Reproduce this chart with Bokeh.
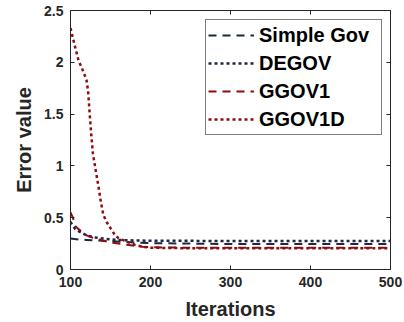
from bokeh.plotting import figure
from bokeh.models import LinearAxis, FixedTicker, Legend, LegendItem, Range1d
from bokeh.embed import file_html
from bokeh.resources import INLINE

# Data
simple_x = [100, 110, 120, 130, 150, 170, 200, 250, 300, 400, 500]
simple_y = [0.30, 0.29, 0.285, 0.28, 0.275, 0.265, 0.255, 0.25, 0.245, 0.245, 0.245]

degov_x = [100, 103, 106, 110, 115, 120, 130, 140, 150, 160, 180, 200, 300, 400, 500]
degov_y = [0.46, 0.42, 0.39, 0.37, 0.35, 0.33, 0.31, 0.30, 0.29, 0.285, 0.28, 0.278, 0.275, 0.275, 0.275]

ggov1_x = [100, 103, 106, 110, 115, 120, 130, 140, 150, 160, 170, 180, 190, 200, 250, 300, 400, 500]
ggov1_y = [0.55, 0.50, 0.42, 0.39, 0.36, 0.33, 0.30, 0.28, 0.26, 0.25, 0.24, 0.23, 0.22, 0.215, 0.21, 0.21, 0.21, 0.21]

ggov1d_x = [100, 105, 110, 115, 120, 122, 124, 126, 128, 131, 135, 138, 141, 145, 150, 155, 160, 170, 180, 190, 200, 250, 300, 400, 500]
ggov1d_y = [2.33, 2.17, 2.02, 1.93, 1.83, 1.72, 1.50, 1.30, 1.12, 0.98, 0.80, 0.65, 0.53, 0.46, 0.40, 0.34, 0.30, 0.27, 0.24, 0.22, 0.21, 0.205, 0.205, 0.205, 0.205]

labels = ["Simple Gov", "DEGOV", "GGOV1", "GGOV1D"]
x_ticks = [100, 200, 300, 400, 500]
y_ticks = [0, 0.5, 1, 1.5, 2, 2.5]
y_tick_labels = ["0", "0.5", "1", "1.5", "2", "2.5"]

NAVY = "#1b2743"
RED = "#8e0c0c"
AX = "#262626"
FONT = "Liberation Sans"

p = figure(width=404, height=322, output_backend="svg", toolbar_location=None,
           x_range=Range1d(100, 500), y_range=Range1d(0, 2.5),
           min_border_left=70, min_border_right=14, min_border_top=10, min_border_bottom=52)
p.grid.visible = False
p.outline_line_color = AX
p.outline_line_width = 1
p.background_fill_color = "white"
p.border_fill_color = "white"

r1 = p.line(simple_x, simple_y, line_color=NAVY, line_width=2, line_dash="8 6")
r2 = p.line(degov_x, degov_y, line_color=NAVY, line_width=2.5, line_dash="3 3")
r3 = p.line(ggov1_x, ggov1_y, line_color=RED, line_width=2, line_dash="8 6")
r4 = p.line(ggov1d_x, ggov1d_y, line_color=RED, line_width=2.5, line_dash="3 3")

def style_axis(ax, show_labels=True):
    ax.axis_line_color = AX
    ax.major_tick_line_color = AX
    ax.major_tick_in = 4
    ax.major_tick_out = 0
    ax.minor_tick_line_color = None
    ax.major_label_text_font = FONT
    ax.major_label_text_font_style = "bold"
    ax.major_label_text_color = AX
    ax.major_label_text_font_size = "14px"
    ax.axis_label_text_font = FONT
    ax.axis_label_text_font_style = "bold"
    ax.axis_label_text_font_size = "20px"
    ax.axis_label_text_color = AX

p.xaxis.ticker = FixedTicker(ticks=x_ticks)
p.yaxis.ticker = FixedTicker(ticks=y_ticks)
p.yaxis.major_label_overrides = {t: s for t, s in zip(y_ticks, y_tick_labels)}
p.xaxis.axis_label = "Iterations"
p.yaxis.axis_label = "Error value"
style_axis(p.xaxis[0])
style_axis(p.yaxis[0])
p.xaxis.major_label_standoff = 7
p.yaxis.major_label_standoff = 7
p.xaxis.axis_label_standoff = 8
p.yaxis.axis_label_standoff = 6

ra = LinearAxis(ticker=FixedTicker(ticks=y_ticks))
style_axis(ra, False)
ra.major_label_overrides = {t: "" for t in y_ticks}
ra.major_label_standoff = 0
p.add_layout(ra, "right")
ta = LinearAxis(ticker=FixedTicker(ticks=x_ticks))
style_axis(ta, False)
ta.major_label_overrides = {t: "" for t in x_ticks}
ta.major_label_standoff = 0
p.add_layout(ta, "above")

legend = Legend(items=[LegendItem(label=l, renderers=[r]) for l, r in zip(labels, [r1, r2, r3, r4])],
                location=(135, 134))
legend.label_text_font = FONT
legend.label_text_font_style = "bold"
legend.label_text_font_size = "20px"
legend.label_text_color = "black"
legend.glyph_width = 46
legend.glyph_height = 26
legend.label_height = 26
legend.label_width = 120
legend.label_standoff = 5
legend.spacing = 2
legend.padding = 2
legend.margin = 0
legend.border_line_color = "black"
legend.border_line_width = 1
legend.background_fill_alpha = 1
p.add_layout(legend, "center")

open("out.html", "w").write(file_html(p, INLINE))
